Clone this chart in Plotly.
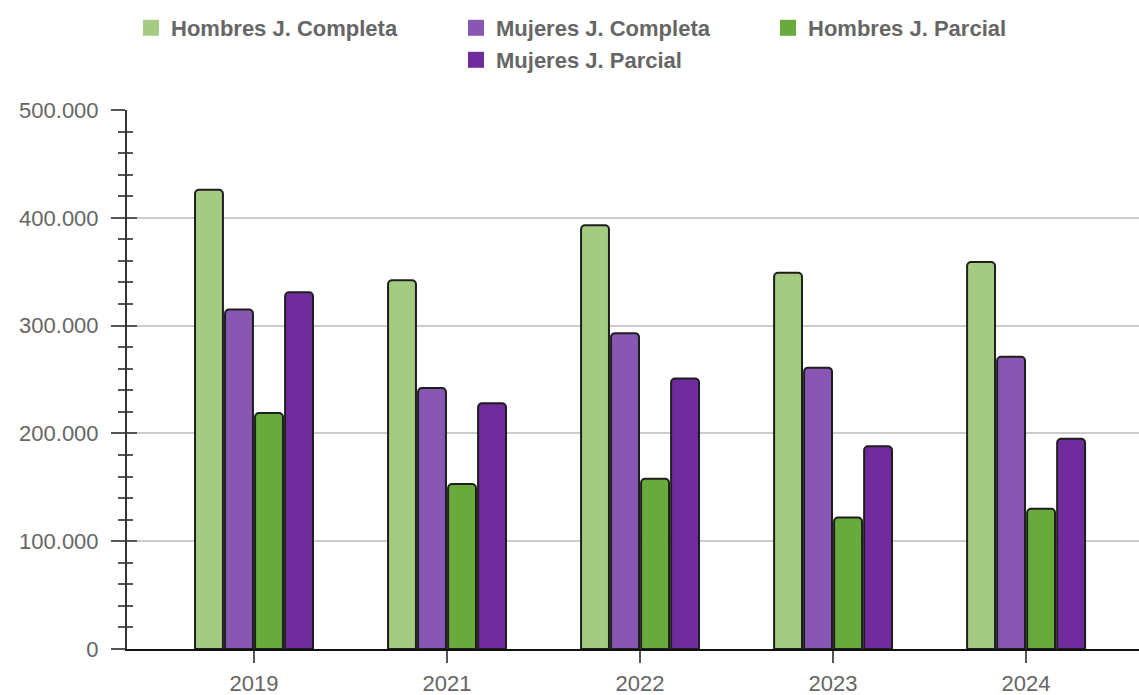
import plotly.graph_objects as go

years = ["2019", "2021", "2022", "2023", "2024"]
series_names = ["Hombres J. Completa", "Mujeres J. Completa", "Hombres J. Parcial", "Mujeres J. Parcial"]
hombres_completa = [426000, 342000, 393000, 349000, 359000]
mujeres_completa = [315000, 242000, 293000, 261000, 271000]
hombres_parcial = [219000, 153000, 158000, 122000, 130000]
mujeres_parcial = [331000, 228000, 251000, 188000, 195000]
colors = ["#a5cb83", "#8856b3", "#69aa3c", "#702c9c"]
y_ticks = [0, 100000, 200000, 300000, 400000, 500000]

values = [hombres_completa, mujeres_completa, hombres_parcial, mujeres_parcial]
legend_ids = ["legend", "legend2", "legend3", "legend4"]

fig = go.Figure()
for name, vals, col in zip(series_names, values, colors):
    fig.add_trace(go.Bar(
        x=years, y=vals, name=name, showlegend=False,
        marker=dict(color=col, line=dict(color="#1e1e1e", width=2)),
    ))

# legend entries (square swatches)
for name, col, lid in zip(series_names, colors, legend_ids):
    fig.add_trace(go.Scatter(
        x=[None], y=[None], mode="markers", name=name,
        marker=dict(symbol="square", size=20, color=col, line=dict(width=0)),
        legend=lid,
    ))

# helper trace for the inner tick axis
fig.add_trace(go.Scatter(x=[None], y=[None], yaxis="y2", showlegend=False, hoverinfo="skip"))

tick_font = dict(family="Liberation Sans, Arial", size=22, color="#666666")
legend_font = dict(family="Liberation Sans, Arial", size=22, color="#666666", weight="bold")

W, H = 1139, 695
legend_pos = [(131, 28), (456, 28), (768, 28), (456, 60)]


def legend_cfg(px, py):
    return dict(
        orientation="h", xref="container", yref="container",
        x=px / W, xanchor="left", y=1 - py / H, yanchor="middle",
        font=legend_font, bgcolor="rgba(0,0,0,0)", itemclick=False,
        borderwidth=0,
    )


fig.update_layout(
    width=W, height=H,
    margin=dict(l=127, r=0, t=110, b=46, autoexpand=False),
    paper_bgcolor="white", plot_bgcolor="white",
    separators=",.",
    barmode="group", bargap=0.378, bargroupgap=0.07, barcornerradius=4,
    xaxis=dict(
        type="category", range=[-0.658, 4.585], automargin=False,
        showline=True, linecolor="#111111", linewidth=2,
        ticks="outside", ticklen=12, tickwidth=1.5, tickcolor="#555555",
        tickfont=tick_font, showgrid=False, ticklabelstandoff=2,
    ),
    yaxis=dict(
        range=[0, 500000], tickvals=y_ticks, tickformat=",d", automargin=False,
        showline=True, linecolor="#333333", linewidth=2,
        ticks="outside", ticklen=14, tickwidth=1.5, tickcolor="#555555",
        minor=dict(dtick=20000, ticks="outside", ticklen=7, tickwidth=1.5, tickcolor="#555555", showgrid=False),
        showgrid=True, gridcolor="#cccccc", gridwidth=1.5,
        tickfont=tick_font, ticklabelstandoff=8, zeroline=False,
    ),
    yaxis2=dict(
        overlaying="y", range=[0, 500000], tickvals=y_ticks, automargin=False,
        ticks="inside", ticklen=10, tickwidth=1.5, tickcolor="#555555",
        minor=dict(dtick=20000, ticks="inside", ticklen=6, tickwidth=1.5, tickcolor="#555555", showgrid=False),
        showticklabels=False, showgrid=False, showline=False, zeroline=False,
    ),
    legend=legend_cfg(*legend_pos[0]),
    legend2=legend_cfg(*legend_pos[1]),
    legend3=legend_cfg(*legend_pos[2]),
    legend4=legend_cfg(*legend_pos[3]),
)

fig.write_html(
    "out.html",
    config={"displayModeBar": False},
    post_script="document.body.style.margin='0';document.body.style.overflow='hidden';",
)
